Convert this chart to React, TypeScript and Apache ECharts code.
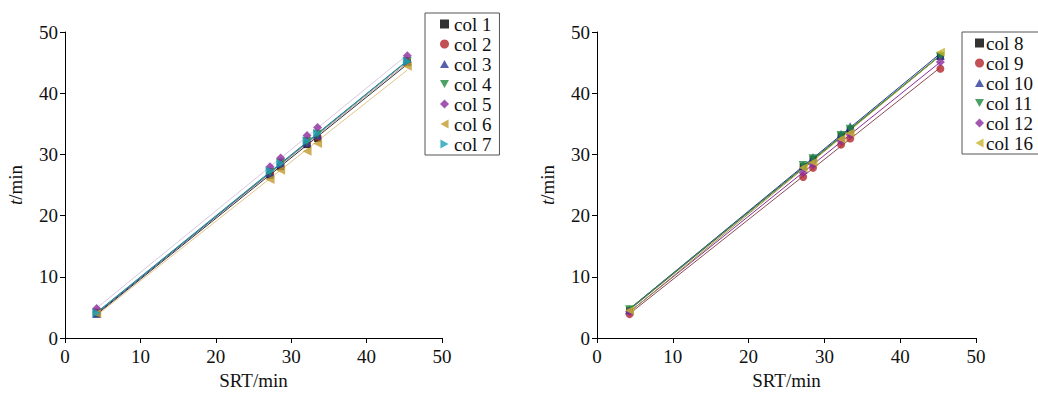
import React, { useEffect, useRef } from "react";
import * as echarts from "echarts";

// ---- data ----
const xLeft = [4.2, 27.2, 28.6, 32.1, 33.5, 45.4];
const xRight = [4.3, 27.2, 28.5, 32.2, 33.4, 45.3];

const leftNames = ["col 1", "col 2", "col 3", "col 4", "col 5", "col 6", "col 7"];
const col1 = [4.0, 26.6, 28.0, 31.6, 32.6, 45.0];
const col2 = [4.1, 26.9, 28.3, 31.9, 32.9, 45.1];
const col3 = [4.0, 27.0, 28.5, 32.0, 33.2, 45.3];
const col4 = [4.1, 27.1, 28.6, 32.1, 33.3, 45.2];
const col5 = [4.8, 28.0, 29.4, 33.1, 34.4, 46.1];
const col6 = [4.0, 25.9, 27.4, 30.5, 31.8, 44.4];
const col7 = [4.1, 27.3, 28.5, 32.2, 33.4, 45.2];

const rightNames = ["col 8", "col 9", "col 10", "col 11", "col 12", "col 16"];
const col8 = [4.5, 28.0, 29.2, 33.0, 34.0, 46.0];
const col9 = [3.9, 26.3, 27.8, 31.6, 32.6, 44.0];
const col10 = [4.6, 28.2, 29.5, 33.3, 34.5, 46.2];
const col11 = [4.6, 28.2, 29.3, 33.1, 34.1, 46.0];
const col12 = [4.3, 27.0, 28.3, 32.2, 33.2, 45.1];
const col16 = [4.5, 27.8, 28.7, 32.5, 33.5, 46.7];

const axisTicks = [0, 10, 20, 30, 40, 50];

const FONT = "'Liberation Serif', 'Times New Roman', serif";

const TRI_UP = "path://M5,0 L10,9 L0,9 Z";
const TRI_DOWN = "path://M0,0 L10,0 L5,9 Z";
const TRI_LEFT = "path://M0,5 L9,0 L9,10 Z";
const TRI_RIGHT = "path://M0,0 L9,5 L0,10 Z";

type Sty = { symbol: string; color: string; line: string; size: number };
const leftStyles: Sty[] = [
  { symbol: "rect", color: "#000000", line: "#333333", size: 7 },
  { symbol: "circle", color: "#b3262c", line: "#c8a0a0", size: 8 },
  { symbol: TRI_UP, color: "#2c3a9a", line: "#2c3a9a", size: 9 },
  { symbol: TRI_DOWN, color: "#1f8a3e", line: "#6fae80", size: 9 },
  { symbol: "diamond", color: "#8b2c9c", line: "#d9c8e0", size: 9 },
  { symbol: TRI_LEFT, color: "#c39a2e", line: "#e3c48a", size: 9 },
  { symbol: TRI_RIGHT, color: "#1ea0b6", line: "#1e8f9e", size: 9 },
];
const rightStyles: Sty[] = [
  { symbol: "rect", color: "#000000", line: "#555555", size: 7 },
  { symbol: "circle", color: "#b3262c", line: "#8a4a50", size: 8 },
  { symbol: TRI_UP, color: "#2c3a9a", line: "#2c3a9a", size: 9 },
  { symbol: TRI_DOWN, color: "#1f8a3e", line: "#2f8a3e", size: 9 },
  { symbol: "diamond", color: "#8b2c9c", line: "#8b2c9c", size: 9 },
  { symbol: TRI_LEFT, color: "#c8b42c", line: "#9a9a30", size: 9 },
];

function fit(xs: number[], ys: number[]) {
  const n = xs.length;
  const mx = xs.reduce((a, b) => a + b, 0) / n;
  const my = ys.reduce((a, b) => a + b, 0) / n;
  let sxy = 0, sxx = 0;
  for (let i = 0; i < n; i++) {
    sxy += (xs[i] - mx) * (ys[i] - my);
    sxx += (xs[i] - mx) * (xs[i] - mx);
  }
  const k = sxy / sxx;
  const b = my - k * mx;
  const x0 = Math.min(...xs), x1 = Math.max(...xs);
  return [[x0, k * x0 + b], [x1, k * x1 + b]];
}

function buildSeries(xs: number[], cols: number[][], names: string[], styles: Sty[], idx: number) {
  const out: any[] = [];
  cols.forEach((ys, i) => {
    out.push({
      type: "line",
      name: "fit" + idx + "_" + i,
      xAxisIndex: idx,
      yAxisIndex: idx,
      data: fit(xs, ys),
      showSymbol: false,
      symbol: "none",
      lineStyle: { color: styles[i].line, width: 1 },
      silent: true,
      z: 1,
    });
  });
  cols.forEach((ys, i) => {
    out.push({
      type: "scatter",
      name: names[i],
      xAxisIndex: idx,
      yAxisIndex: idx,
      data: xs.map((x, j) => [x, ys[j]]),
      symbol: styles[i].symbol,
      symbolSize: styles[i].size,
      itemStyle: { color: styles[i].color },
      z: 3,
    });
  });
  return out;
}

const axisCommon = {
  min: axisTicks[0],
  max: axisTicks[axisTicks.length - 1],
  interval: 10,
  axisLine: { show: true, lineStyle: { color: "#000", width: 1 } },
  axisTick: { show: true, inside: false, length: 5, lineStyle: { color: "#000" } },
  splitLine: { show: false },
};

function xAxis(idx: number) {
  return {
    ...axisCommon,
    type: "value",
    gridIndex: idx,
    name: "SRT/min",
    nameLocation: "middle",
    nameGap: 33,
    nameTextStyle: { color: "#111", fontFamily: FONT, fontSize: 19 },
    axisLabel: { color: "#111", fontFamily: FONT, fontSize: 19, margin: 9 },
  };
}
function yAxis(idx: number) {
  return {
    ...axisCommon,
    type: "value",
    gridIndex: idx,
    name: "{i|t}/min",
    nameLocation: "middle",
    nameGap: 40,
    nameRotate: 90,
    axisLabel: { color: "#111", fontFamily: FONT, fontSize: 19, margin: 7 },
    nameTextStyle: {
      color: "#111",
      fontFamily: FONT,
      fontSize: 19,
      rich: { i: { fontStyle: "italic", fontFamily: FONT, fontSize: 19, color: "#111" } },
    },
  };
}

function legend(names: string[], left: number, top: number, padLeft: number, gap: number) {
  return {
    data: names,
    orient: "vertical",
    left,
    top,
    itemWidth: 9,
    itemHeight: 9,
    itemGap: 0,
    padding: [1, 8, 1, padLeft],
    borderColor: "#555",
    borderWidth: 1,
    borderRadius: 0,
    backgroundColor: "#fff",
    textStyle: { fontFamily: FONT, fontSize: 19, color: "#111", lineHeight: 20, padding: [0, 0, 0, gap - 5] },
  };
}

export default function App() {
  const ref = useRef<HTMLDivElement>(null);
  useEffect(() => {
    if (!ref.current) return;
    const chart = echarts.init(ref.current, null, { renderer: "svg" });
    const option: any = {
      animation: false,
      backgroundColor: "#ffffff",
      grid: [
        { left: 65, top: 32, width: 377, height: 311 },
        { left: 597, top: 32, width: 379, height: 311 },
      ],
      xAxis: [xAxis(0), xAxis(1)],
      yAxis: [yAxis(0), yAxis(1)],
      legend: [legend(leftNames, 425, 13, 15, 5), legend(rightNames, 962, 32, 13, 2)],
      series: [
        ...buildSeries(xLeft, [col1, col2, col3, col4, col5, col6, col7], leftNames, leftStyles, 0),
        ...buildSeries(xRight, [col8, col9, col10, col11, col12, col16], rightNames, rightStyles, 1),
      ],
    };
    chart.setOption(option);
    return () => chart.dispose();
  }, []);
  return (
    <div
      ref={ref}
      style={{ position: "fixed", left: 0, top: 0, width: 1038, height: 395, background: "#fff" }}
    />
  );
}
